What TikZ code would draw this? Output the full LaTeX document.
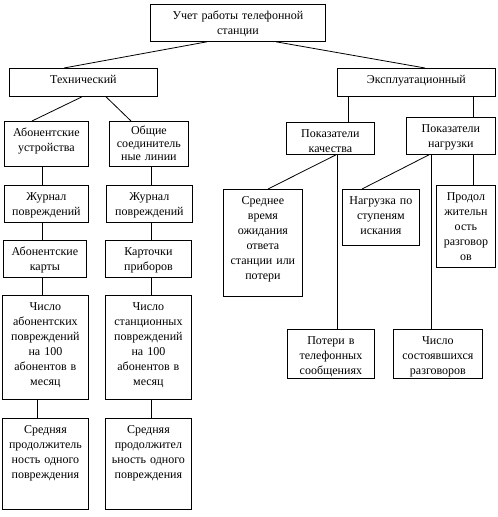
\documentclass[tikz,border=0pt]{standalone}
\usepackage{fontspec}
\setmainfont{Liberation Serif}
\usetikzlibrary{positioning}

\begin{document}
\begin{tikzpicture}[x=1pt,y=-1pt,line width=0.8pt,
 font=\fontsize{12}{15}\selectfont,
 blk/.style 2 args={draw,anchor=north west,inner xsep=1pt,inner ysep=2pt,
  align=center,text width=#1pt,text height=13pt,text depth=#2pt}]
\useasboundingbox (0,0) rectangle (498,517);
% top level
\node[blk={173}{20}] (root) at (150,4) {Учет работы телефонной\\станции};
\node[blk={146}{11}] (tech) at (9,68) {Технический};
\node[blk={156}{11}] (expl) at (337,68) {Эксплуатационный};
% technical branch
\node[blk={82}{28}] (abdev) at (4,121) {Абонентские\\устройства};
\node[blk={77}{30}, text height=11pt, font=\fontsize{12}{13}\selectfont] (common) at (109,121) {Общие\\соединитель\\ные линии};
\node[blk={82}{20}] (jr1) at (4,185) {Журнал\\повреждений};
\node[blk={84}{20}] (jr2) at (106,185) {Журнал\\повреждений};
\node[blk={81}{20}] (card1) at (3,240) {Абонентские\\карты};
\node[blk={84}{20}] (card2) at (105,240) {Карточки\\приборов};
\node[blk={84}{87}] (num1) at (2,295) {Число\\абонентских\\повреждений\\на 100\\абонентов в\\месяц};
\node[blk={84}{87}] (num2) at (105,295) {Число\\станционных\\повреждений\\на 100\\абонентов в\\месяц};
\node[blk={84}{74}] (avg1) at (2,418) {Средняя\\продолжитель\\ность одного\\повреждения};
\node[blk={84}{74}] (avg2) at (105,418) {Средняя\\продолжител\\ьность одного\\повреждения};
% operational branch
\node[blk={86}{15}] (qual) at (286,122) {Показатели\\качества};
\node[blk={87}{20}] (load) at (406,117) {Показатели\\нагрузки};
\node[blk={77}{90}] (wait) at (223,189) {Среднее\\время\\ожидания\\ответа\\станции или\\потери};
\node[blk={85}{32}] (loss) at (287,329) {Потери в\\телефонных\\сообщениях};
\node[blk={75}{39}] (stage) at (342,189) {Нагрузка по\\ступеням\\искания};
\node[blk={87}{32}] (calls) at (393,329) {Число\\состоявшихся\\разговоров};
\node[blk={57}{65}] (dur) at (436,185) {Продол\\жительн\\ость\\разговор\\ов};
% connectors
\draw ([xshift=57pt]root.south west) -- ([xshift=55pt]tech.north west);
\draw ([xshift=126pt]root.south west) -- ([xshift=88pt]expl.north west);
\draw ([xshift=73pt]tech.south west) -- ([xshift=28pt]abdev.north west);
\draw ([xshift=97pt]tech.south west) -- ([xshift=22pt]common.north west);
\draw ([xshift=38pt]abdev.south west) -- ([xshift=38pt]jr1.north west);
\draw ([xshift=42pt]common.south west) -- ([xshift=45pt]jr2.north west);
\draw ([xshift=38pt]jr1.south west) -- ([xshift=39pt]card1.north west);
\draw ([xshift=45pt]jr2.south west) -- ([xshift=46pt]card2.north west);
\draw ([xshift=39pt]card1.south west) -- ([xshift=40pt]num1.north west);
\draw ([xshift=46pt]card2.south west) -- ([xshift=46pt]num2.north west);
\draw ([xshift=35pt]num1.south west) -- ([xshift=35pt]avg1.north west);
\draw ([xshift=46pt]num2.south west) -- ([xshift=46pt]avg2.north west);
\draw ([xshift=11pt]expl.south west) -- ([xshift=62pt]qual.north west);
\draw ([xshift=136pt]expl.south west) -- ([xshift=67pt]load.north west);
\draw ([xshift=50pt]qual.south west) -- ([xshift=45pt]wait.north west);
\draw ([xshift=51pt]qual.south west) -- ([xshift=50pt]loss.north west);
\draw ([xshift=23pt]load.south west) -- ([xshift=20pt]stage.north west);
\draw ([xshift=25pt]load.south west) -- ([xshift=38pt]calls.north west);
\draw ([xshift=67pt]load.south west) -- ([xshift=37pt]dur.north west);
\end{tikzpicture}
\end{document}
